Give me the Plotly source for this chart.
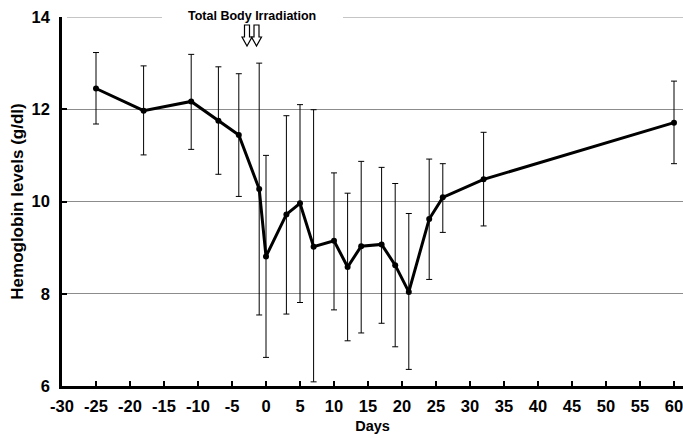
import plotly.graph_objects as go

days = [-25, -18, -11, -7, -4, -1, 0, 3, 5, 7, 10, 12, 14, 17, 19, 21, 24, 26, 32, 60]
hb_mean = [12.45, 11.97, 12.17, 11.75, 11.44, 10.27, 8.81, 9.72, 9.96, 9.02, 9.15, 8.58, 9.03, 9.07, 8.62, 8.04, 9.62, 10.09, 10.48, 11.71]
hb_upper = [13.23, 12.94, 13.19, 12.92, 12.77, 13.00, 11.00, 11.86, 12.10, 11.99, 10.62, 10.18, 10.87, 10.74, 10.39, 9.74, 10.92, 10.82, 11.50, 12.61]
hb_lower = [11.68, 11.01, 11.13, 10.59, 10.11, 7.54, 6.62, 7.56, 7.81, 6.09, 7.65, 6.98, 7.15, 7.36, 6.85, 6.36, 8.31, 9.33, 9.47, 10.82]

x_ticks = list(range(-30, 61, 5))
y_ticks = [6, 8, 10, 12, 14]

err_plus = [u - m for u, m in zip(hb_upper, hb_mean)]
err_minus = [m - l for m, l in zip(hb_mean, hb_lower)]

W, H = 683, 438
L, R, T, B = 62, 0, 17, 52
FONT = "Liberation Sans, Arial, sans-serif"
PW, PH = W - L - R, H - T - B

fig = go.Figure()
fig.add_trace(go.Scatter(
    x=days, y=hb_mean, mode="lines+markers",
    line=dict(color="black", width=3),
    marker=dict(color="black", size=6),
    error_y=dict(type="data", symmetric=False, array=err_plus, arrayminus=err_minus,
                 color="black", thickness=1, width=3),
    cliponaxis=False, showlegend=False, hoverinfo="skip",
))

def px(xp):
    return (xp - L) / PW

def py(yp):
    return (H - B - yp) / PH

def arrow_path(cx, top, bot, shaft_hw=2.5, head_hw=5, head_h=9):
    pts = [(cx - shaft_hw, top), (cx + shaft_hw, top), (cx + shaft_hw, bot - head_h),
           (cx + head_hw, bot - head_h), (cx, bot), (cx - head_hw, bot - head_h),
           (cx - shaft_hw, bot - head_h)]
    return "M " + " L ".join(f"{px(a):.5f},{py(b):.5f}" for a, b in pts) + " Z"

# top gridline (y = 14), interrupted by the label
for x0, x1 in ((67, 162), (343, 683)):
    fig.add_shape(type="line", xref="paper", yref="y", x0=px(x0), x1=px(x1), y0=14, y1=14,
                  line=dict(color="#8c8c8c", width=1), layer="below")

for cx in (247.0, 256.5):
    fig.add_shape(type="path", xref="paper", yref="paper", path=arrow_path(cx, 25, 46),
                  line=dict(color="black", width=1.2), fillcolor="white", layer="above")

fig.add_annotation(text="Total Body Irradiation", xref="paper", yref="paper",
                   x=px(252), y=py(16), xanchor="center", yanchor="middle", showarrow=False,
                   font=dict(family=FONT, size=12.5, color="black", weight="bold"))

fig.update_layout(
    width=W, height=H, margin=dict(l=L, r=R, t=T, b=B),
    paper_bgcolor="white", plot_bgcolor="white",
    font=dict(family=FONT, color="black"),
    xaxis=dict(range=[-30, 60 + 9 / 6.8], tickvals=x_ticks, ticktext=[str(v) for v in x_ticks],
               showgrid=False, zeroline=False, showline=True, linecolor="black", linewidth=2.5,
               ticks="inside", ticklen=5, tickwidth=2, tickcolor="black",
               ticklabelstandoff=3, ticklabeloverflow="allow",
               tickfont=dict(family=FONT, size=16.5, color="black", weight="bold"),
               title=dict(text="Days", standoff=8,
                          font=dict(family=FONT, size=14.5, color="black", weight="bold"))),
    yaxis=dict(range=[6, 14], tickvals=y_ticks, ticktext=[str(v) for v in y_ticks],
               showgrid=True, gridcolor="#8c8c8c", gridwidth=1, zeroline=False,
               showline=True, linecolor="black", linewidth=2.5,
               ticks="inside", ticklen=5, tickwidth=2, tickcolor="black",
               ticklabelstandoff=6, ticklabeloverflow="allow",
               tickfont=dict(family=FONT, size=16.5, color="black", weight="bold"),
               title=dict(text="Hemoglobin levels (g/dl)", standoff=4,
                          font=dict(family=FONT, size=17, color="black", weight="bold"))),
)

fig.write_html("out.html", config={"displayModeBar": False},
               post_script="document.body.style.margin='0px';")
